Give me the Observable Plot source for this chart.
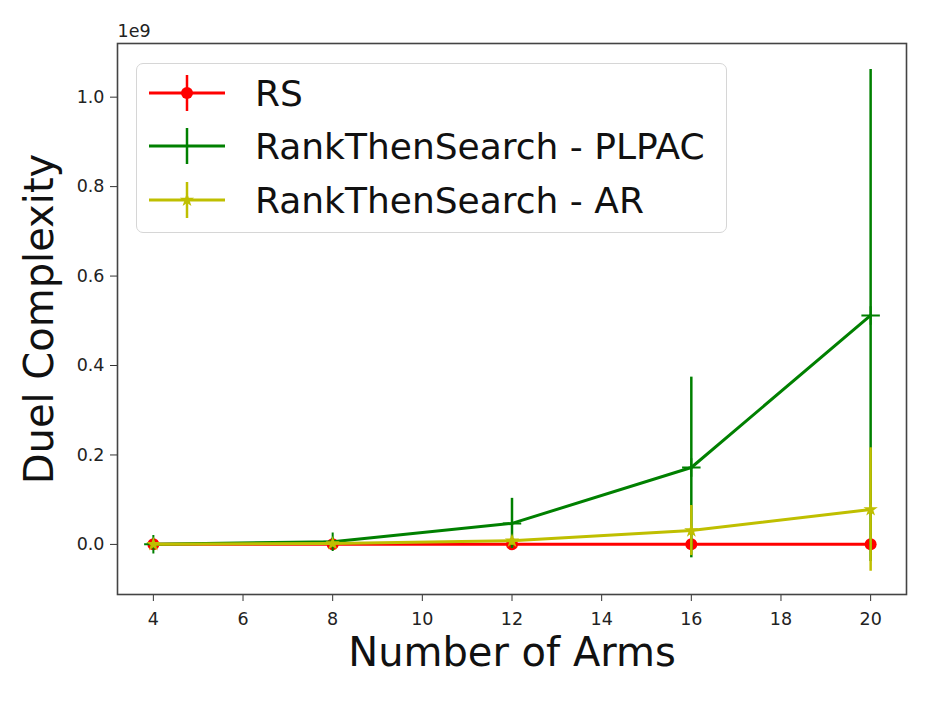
<!DOCTYPE html>
<html><head><meta charset="utf-8">
<script src="https://cdn.jsdelivr.net/npm/d3@7"></script>
<script src="https://cdn.jsdelivr.net/npm/@observablehq/plot@0.6"></script>
<style>
body{margin:0;background:#fff;font-family:"DejaVu Sans",sans-serif;}
#wrap{position:relative;width:934px;height:701px;}
#legend{position:absolute;left:136px;top:63px;width:589px;height:168px;border:1.5px solid #d6d6d6;border-radius:7px;background:rgba(255,255,255,0.85);}
#legend svg{display:block;}
</style></head><body><div id="wrap"></div>
<script>
// Data (duel complexity, in units of 1e9)
const arms = [4, 8, 12, 16, 20];
const seriesNames = ["RS", "RankThenSearch - PLPAC", "RankThenSearch - AR"];
const rsMean = [0.0001, 0.0002, 0.0003, 0.0004, 0.0005];
const rsErr = [0.0001, 0.0002, 0.0003, 0.0004, 0.0005];
const plpacMean = [0.0003, 0.006, 0.047, 0.172, 0.512];
const plpacErr = [0.0003, 0.008, 0.056, 0.202, 0.55];
const arMean = [0.0002, 0.002, 0.008, 0.031, 0.078];
const arErr = [0.0002, 0.003, 0.01, 0.056, 0.138];
const xTicks = [4, 6, 8, 10, 12, 14, 16, 18, 20];
const yTicks = [0.0, 0.2, 0.4, 0.6, 0.8, 1.0];
const colors = ["#ff0000", "#008000", "#bfbf00"];
const symbols = ["circle", "plus", "star"];
const xLabel = "Number of Arms";
const yLabel = "Duel Complexity";
const offsetText = "1e9";

const means = [rsMean, plpacMean, arMean];
const errs = [rsErr, plpacErr, arErr];
const rows = [];
seriesNames.forEach((s, i) => arms.forEach((a, j) => rows.push({
  series: s, idx: i, arms: a, mean: means[i][j],
  lo: means[i][j] - errs[i][j], hi: means[i][j] + errs[i][j]
})));

const symR = {circle: 6, plus: 6, star: 4.5};
const seriesMarks = [];
seriesNames.forEach((s, i) => {
  const d = rows.filter(r => r.idx === i);
  seriesMarks.push(Plot.line(d, {x: "arms", y: "mean", stroke: colors[i], strokeWidth: 3}));
  seriesMarks.push(Plot.ruleX(d, {x: "arms", y1: "lo", y2: "hi", stroke: colors[i], strokeWidth: 2.5}));
  if (symbols[i] === "plus") {
    seriesMarks.push(Plot.dot(d, {x: "arms", y: "mean", symbol: "plus", r: symR.plus, stroke: colors[i], strokeWidth: 2, fill: "none"}));
  } else {
    seriesMarks.push(Plot.dot(d, {x: "arms", y: "mean", symbol: symbols[i], r: symR[symbols[i]], fill: colors[i], stroke: "none"}));
  }
});

const chart = Plot.plot({
  width: 934, height: 701,
  marginLeft: 117, marginRight: 28, marginTop: 43, marginBottom: 107,
  style: {fontFamily: "DejaVu Sans, sans-serif", background: "#fff", color: "#222"},
  x: {domain: [3.2, 20.8]},
  y: {domain: [-0.112, 1.12]},
  marks: [
    Plot.axisX({ticks: xTicks, tickSize: 7, tickPadding: 11, fontSize: 17.5, label: null, stroke: "#333"}),
    Plot.axisY({ticks: yTicks, tickFormat: d3.format(".1f"), tickSize: 7, tickPadding: 6, fontSize: 17.5, label: null, stroke: "#333"}),
    ...seriesMarks,
    Plot.frame({stroke: "#444", strokeWidth: 1.6}),
    Plot.text([xLabel], {frameAnchor: "bottom", dy: 59, lineAnchor: "middle", fontSize: 40, fill: "#111"}),
    Plot.text([yLabel], {frameAnchor: "left", dx: -77, rotate: -90, textAnchor: "middle", lineAnchor: "middle", fontSize: 40, fill: "#111"}),
    Plot.text([offsetText], {frameAnchor: "top-left", dy: -12, lineAnchor: "middle", textAnchor: "start", fontSize: 17.5, fill: "#222"})
  ]
});
const wrap = document.getElementById("wrap");
wrap.appendChild(chart);

// Legend
const leg = document.createElement("div");
leg.id = "legend";
wrap.appendChild(leg);
const lsvg = d3.select(leg).append("svg").attr("width", 589).attr("height", 168);
const rowY = [29, 82, 136];
seriesNames.forEach((s, i) => {
  const g = lsvg.append("g").attr("transform", `translate(0,${rowY[i]})`);
  g.append("line").attr("x1", 12).attr("x2", 88).attr("stroke", colors[i]).attr("stroke-width", 3);
  g.append("line").attr("x1", 50).attr("x2", 50).attr("y1", -18).attr("y2", 18).attr("stroke", colors[i]).attr("stroke-width", 2.5);
  const sym = {circle: d3.symbolCircle, plus: d3.symbolPlus, star: d3.symbolStar}[symbols[i]];
  const r = symR[symbols[i]];
  const p = g.append("path").attr("transform", "translate(50,0)").attr("d", d3.symbol(sym, Math.PI * r * r)());
  if (symbols[i] === "plus") p.attr("fill", "none").attr("stroke", colors[i]).attr("stroke-width", 2);
  else p.attr("fill", colors[i]);
  g.append("text").attr("x", 118).attr("dy", "0.35em").attr("font-size", 36).attr("fill", "#111")
    .attr("font-family", "DejaVu Sans, sans-serif").text(s);
});
</script></body></html>
